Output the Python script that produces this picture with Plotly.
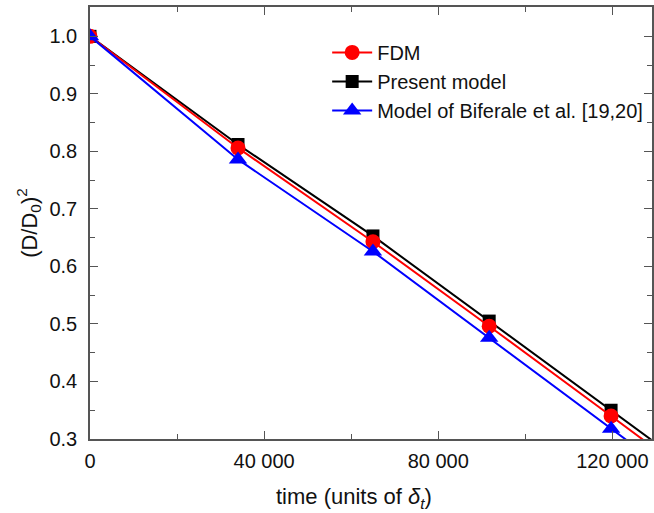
import plotly.graph_objects as go

# time (units of delta_t)
t_points = [0, 34000, 65000, 91700, 119700, 135000]

fdm_y = [1.0, 0.806, 0.643, 0.496, 0.340, 0.254]
present_y = [1.0, 0.812, 0.653, 0.505, 0.350, 0.265]
biferale_y = [1.0, 0.786, 0.626, 0.476, 0.318, 0.232]

x_tickvals = [0, 40000, 80000, 120000]
x_ticktext = ["0", "40 000", "80 000", "120 000"]
y_tickvals = [0.3, 0.4, 0.5, 0.6, 0.7, 0.8, 0.9, 1.0]

font_family = "Liberation Sans, Arial, Helvetica, sans-serif"

fig = go.Figure()

fig.add_trace(go.Scatter(
    x=t_points, y=present_y, mode="lines+markers", name="Present model",
    line=dict(color="#000000", width=2),
    marker=dict(symbol="square", size=13, color="#000000"),
    legendrank=2,
))
fig.add_trace(go.Scatter(
    x=t_points, y=fdm_y, mode="lines+markers", name="FDM",
    line=dict(color="#ff0000", width=2),
    marker=dict(symbol="circle", size=15, color="#ff0000"),
    legendrank=1,
))
fig.add_trace(go.Scatter(
    x=t_points, y=biferale_y, mode="lines+markers", name="Model of Biferale et al. [19,20]",
    line=dict(color="#0000ff", width=2),
    marker=dict(symbol="triangle-up", size=16, color="#0000ff"),
    legendrank=3,
))

axis_common = dict(
    showline=True, linecolor="#555555", linewidth=1.5, mirror="allticks",
    ticks="inside", ticklen=8, tickwidth=1.2, tickcolor="#555555",
    showgrid=False, zeroline=False,
    tickfont=dict(family=font_family, size=20, color="#111111"),
)

fig.update_xaxes(
    range=[0, 129100],
    tickvals=x_tickvals, ticktext=x_ticktext,
    minor=dict(dtick=20000, ticks="inside", ticklen=5, tickcolor="#555555", tickwidth=1.2),
    ticklabelstandoff=3,
    **axis_common,
)
fig.update_yaxes(
    range=[0.3, 1.051],
    tickvals=y_tickvals, tickformat=".1f",
    minor=dict(dtick=0.05, tick0=0.3, ticks="inside", ticklen=5, tickcolor="#555555", tickwidth=1.2),
    ticklabelstandoff=7,
    title=dict(text="(D/D<sub>0</sub>)<sup>2</sup>", font=dict(family=font_family, size=22, color="#111111"), standoff=6),
    **axis_common,
)

fig.add_annotation(
    text="time (units of <i>δ</i><sub><i>t</i></sub>)",
    xref="paper", yref="paper", x=0.47, y=-0.1, xanchor="center", yanchor="top",
    showarrow=False, font=dict(family=font_family, size=22, color="#111111"),
)

fig.update_layout(
    width=654, height=513,
    margin=dict(l=90, r=0, t=7, b=74),
    plot_bgcolor="white", paper_bgcolor="white",
    font=dict(family=font_family, color="#111111"),
    legend=dict(
        x=0.422, y=0.94, xanchor="left", yanchor="top",
        bgcolor="rgba(0,0,0,0)", font=dict(family=font_family, size=20, color="#111111"),
        itemwidth=40, tracegroupgap=0,
    ),
    showlegend=True,
)

fig.write_html("out.html", config={"displayModeBar": False},
               post_script="document.body.style.margin='0';")
